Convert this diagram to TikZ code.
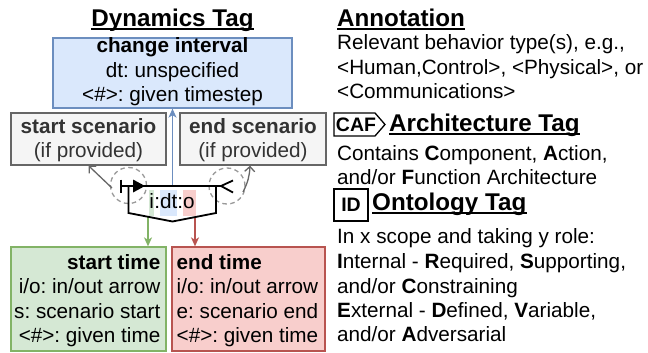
\documentclass[tikz,border=0pt]{standalone}
\usepackage{fontspec}
\setmainfont{Liberation Sans}
\usetikzlibrary{arrows.meta}
\definecolor{blueF}{HTML}{DAE8FC}
\definecolor{blueD}{HTML}{6C8EBF}
\definecolor{greenF}{HTML}{D5E8D4}
\definecolor{greenD}{HTML}{82B366}
\definecolor{redF}{HTML}{F8CECC}
\definecolor{redD}{HTML}{B85450}
\definecolor{grayF}{HTML}{F5F5F5}
\definecolor{grayD}{HTML}{666666}
\definecolor{grayT}{HTML}{333333}
\definecolor{grayC}{HTML}{999999}
\newcommand\lblstrut{\rule[-7.5pt]{0pt}{25.5pt}}
\frenchspacing
\begin{document}
\begin{tikzpicture}[x=1pt,y=-1pt,
  body/.style={font=\fontsize{20.7}{24.5}\selectfont, inner sep=0pt},
  head/.style={font=\fontsize{24.2}{28}\selectfont\bfseries, inner sep=0pt},
  tagtxt/.style={font=\fontsize{19.5}{22}\selectfont\bfseries, inner sep=0pt},
  panel/.style={draw, line width=1.3pt, inner sep=0pt},
  uline/.style={line width=1.7pt},
  conn/.style={line width=1.8pt, black},
  tagline/.style={line width=1.3pt, black},
  graylink/.style={line width=1.3pt, grayD, -{Straight Barb[length=5pt,width=10pt]}},
  ring/.style={circle, draw=grayC, line width=1.3pt, dash pattern=on 4.5pt off 3.5pt, minimum size=36pt, inner sep=0pt},
  tip/.style={-{Stealth[length=9pt,width=8pt,inset=2.5pt]}, line width=1.3pt}
]
\useasboundingbox (0,0) rectangle (648,353);

% ---------- left column: dynamics tag ----------
\node[head, anchor=base] (dyn) at (172.5,26.5) {Dynamics Tag};
\draw[uline] ([yshift=-2.6pt]dyn.base west) -- ([yshift=-2.6pt]dyn.base east);

\node[panel, fill=blueF, draw=blueD, minimum width=239pt, minimum height=70pt] (ci) at (172.5,73) {};
\node[body, anchor=base] (ci1) at (172.5,53) {\textbf{change interval}};
\node[body, anchor=base] (ci2) at (172.5,77.5) {dt: unspecified};
\node[body, anchor=base] (ci3) at (172.5,102) {<\#>: given timestep};

\node[panel, fill=grayF, draw=grayD, minimum width=155pt, minimum height=52pt] (ss) at (88.5,139) {};
\node[body, anchor=base, text=grayT] (ss1) at (88.5,133) {\textbf{start scenario}};
\node[body, anchor=base, text=grayT] (ss2) at (88.5,157) {(if provided)};

\node[panel, fill=grayF, draw=grayD, minimum width=146pt, minimum height=52pt] (es) at (253,139) {};
\node[body, anchor=base, text=grayT] (es1) at (253,133) {\textbf{end scenario}};
\node[body, anchor=base, text=grayT] (es2) at (253,157) {(if provided)};

\node[panel, fill=greenF, draw=greenD, minimum width=155pt, minimum height=104pt] (st) at (88.5,299) {};
\node[body, anchor=base east] (st1) at (160.5,269) {\textbf{start time}};
\node[body, anchor=base east] (st2) at (160.5,293.5) {i/o: in/out arrow};
\node[body, anchor=base east] (st3) at (160.5,318) {s: scenario start};
\node[body, anchor=base east] (st4) at (160.5,342.5) {<\#>: given time};

\node[panel, fill=redF, draw=redD, minimum width=153pt, minimum height=104pt] (et) at (248.5,299) {};
\node[body, anchor=base west] (et1) at (176.5,269) {\textbf{end time}};
\node[body, anchor=base west] (et2) at (176.5,293.5) {i/o: in/out arrow};
\node[body, anchor=base west] (et3) at (176.5,318) {e: scenario end};
\node[body, anchor=base west] (et4) at (176.5,342.5) {<\#>: given time};

% ---------- interval glyph ----------
\coordinate (cL) at (121,186);
\coordinate (cR) at (221,186);
\coordinate (cM) at (172.5,186);
\coordinate (pa) at (128.5,186);
\coordinate (pb) at (128.5,213);
\coordinate (pc) at (172.5,221.5);
\coordinate (pd) at (216,213);
\coordinate (pe) at (216,186);
\coordinate (gS) at (148,216.5);
\coordinate (rS) at (195,216.8);

\node[ring] (r1) at (128.5,185.5) {};
\node[ring] (r2) at (227,186) {};

\draw[tip, blueD] (cM) -- (ci.south);
\draw[tip, greenD] (gS) -- (gS |- st.north);
\draw[tip, redD] (rS) -- (rS |- et.north);

\draw[conn] (cL) -- (cR);
\draw[conn] ([yshift=6.5pt]cL) -- ([yshift=-6.5pt]cL);
\fill (145,186) -- (133,179.5) -- (133,192.5) -- cycle;
\draw[conn] (233,180.5) -- (cR) -- (233,192.5);
\draw[conn, line join=miter] (pa) -- (pb) -- (pc) -- (pd) -- (pe);

\node[body, anchor=base] (idto) at (172.5,208)
  {\setlength\fboxsep{0pt}\colorbox{greenF}{\hspace{0.5pt}\lblstrut i\hspace{0.5pt}}:\colorbox{blueF}{\lblstrut dt}:\colorbox{redF}{\lblstrut o\hspace{1.5pt}}};

\draw[graylink] (112,188) -- (ss.south);
\draw[graylink] (243,192) to[bend right=12] ([xshift=-3pt]es.south);

% ---------- right column ----------
\node[head, anchor=base west] (ann) at (337,26.5) {Annotation};
\draw[uline] ([yshift=-2.6pt]ann.base west) -- ([yshift=-2.6pt]ann.base east);
\node[body, anchor=base west] (an1) at (337,50) {Relevant behavior type(s), e.g.,};
\node[body, anchor=base west] (an2) at (337,74.5) {<Human,Control>, <Physical>, or};
\node[body, anchor=base west] (an3) at (337,99) {<Communications>};

\draw[tagline, line join=miter] (334,113) -- (375,113) -- (385,124.5) -- (375,136) -- (334,136) -- cycle;
\node[tagtxt, anchor=base] (caf) at (356,131.3) {CAF};
\node[head, anchor=base west] (arch) at (389,131.7) {Architecture Tag};
\draw[uline] ([yshift=-2.6pt]arch.base west) -- ([yshift=-2.6pt]arch.base east);
\node[body, anchor=base west] (ar1) at (337,160) {Contains \textbf{C}omponent, \textbf{A}ction,};
\node[body, anchor=base west] (ar2) at (337,184.5) {and/or \textbf{F}unction Architecture};

\draw[tagline] (334,189) rectangle (368,221);
\node[tagtxt, anchor=base] (idt) at (351,211.5) {ID};
\node[head, anchor=base west] (onto) at (372,210.7) {Ontology Tag};
\draw[uline] ([yshift=-2.6pt]onto.base west) -- ([yshift=-2.6pt]onto.base east);
\node[body, anchor=base west] (on1) at (337,243) {In x scope and taking y role:};
\node[body, anchor=base west] (on2) at (337,268) {\textbf{I}nternal - \textbf{R}equired, \textbf{S}upporting,};
\node[body, anchor=base west] (on3) at (337,293) {and/or \textbf{C}onstraining};
\node[body, anchor=base west] (on4) at (337,317.3) {\textbf{E}xternal - \textbf{D}efined, \textbf{V}ariable,};
\node[body, anchor=base west] (on5) at (337,341.7) {and/or \textbf{A}dversarial};
\end{tikzpicture}
\end{document}
